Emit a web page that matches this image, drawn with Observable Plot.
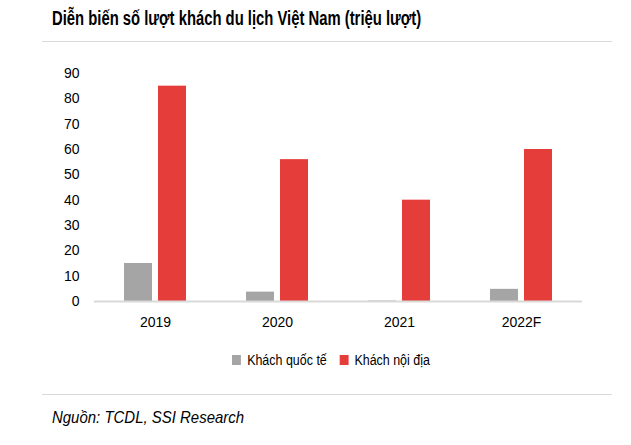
<!DOCTYPE html>
<html><head><meta charset="utf-8">
<script src="https://cdn.jsdelivr.net/npm/d3@7"></script>
<script src="https://cdn.jsdelivr.net/npm/@observablehq/plot@0.6"></script>
<style>
html,body{margin:0;padding:0;background:#fff;}
#wrap{position:relative;width:631px;height:445px;font-family:"Liberation Sans",Arial,sans-serif;color:#000;overflow:hidden;}
#title{position:absolute;left:52px;top:7px;font-family:"Liberation Sans",Arial,sans-serif;font-weight:bold;font-size:19.5px;white-space:nowrap;transform:scaleX(0.76);transform-origin:0 0;}
.hr{position:absolute;left:42px;width:570px;height:0;border-top:1.5px solid #d9d9d9;}
#chart{position:absolute;left:0;top:50px;}
#legend{position:absolute;left:232px;top:343px;transform:scaleX(0.89);transform-origin:0 0;white-space:nowrap;}
#source{position:absolute;left:52px;top:408px;font-style:italic;font-size:17px;font-family:"Liberation Sans",Arial,sans-serif;white-space:nowrap;transform:scaleX(0.88);transform-origin:0 0;}
</style></head>
<body>
<div id="wrap">
  <div id="title">Diễn biến số lượt khách du lịch Việt Nam (triệu lượt)</div>
  <div class="hr" style="top:41px"></div>
  <div id="chart"></div>
  <div id="legend"></div>
  <div class="hr" style="top:394px"></div>
  <div id="source">Nguồn: TCDL, SSI Research</div>
</div>
<script>
const years = ["2019", "2020", "2021", "2022F"];
const seriesNames = ["Khách quốc tế", "Khách nội địa"];
const intlValues = [15, 3.7, 0.2, 4.8];
const domesticValues = [85, 56, 40, 60];
const seriesColors = ["#a5a5a5", "#e53e3a"];
const yTicks = [0, 10, 20, 30, 40, 50, 60, 70, 80, 90];

const data = [];
years.forEach((y, i) => {
  data.push({year: y, series: seriesNames[0], value: intlValues[i]});
  data.push({year: y, series: seriesNames[1], value: domesticValues[i]});
});

const plot = Plot.plot({
  width: 631,
  height: 290,
  marginLeft: 93,
  marginRight: 49,
  marginTop: 23,
  marginBottom: 39,
  style: {fontFamily: "'Liberation Sans', Arial, sans-serif", fontSize: "14px", color: "#000"},
  fx: {domain: years, padding: 0, label: null, tickSize: 0, tickPadding: 16},
  x: {domain: seriesNames, paddingInner: 0.18, paddingOuter: 0.88, axis: null},
  y: {domain: [0, 90], ticks: yTicks, label: null, tickSize: 0, tickPadding: 15, tickFormat: d => d},
  color: {domain: seriesNames, range: seriesColors},
  marks: [
    Plot.barY(data, {fx: "year", x: "series", y: "value", fill: "series"}),
    Plot.ruleY([0], {stroke: "#d9d9d9", strokeWidth: 2})
  ]
});
document.getElementById("chart").appendChild(plot);

const leg = plot.legend("color", {swatchSize: 10, style: {fontFamily: "'Liberation Sans', Arial, sans-serif", fontSize: "14px", color: "#000"}});
document.getElementById("legend").appendChild(leg);
</script>
</body></html>
